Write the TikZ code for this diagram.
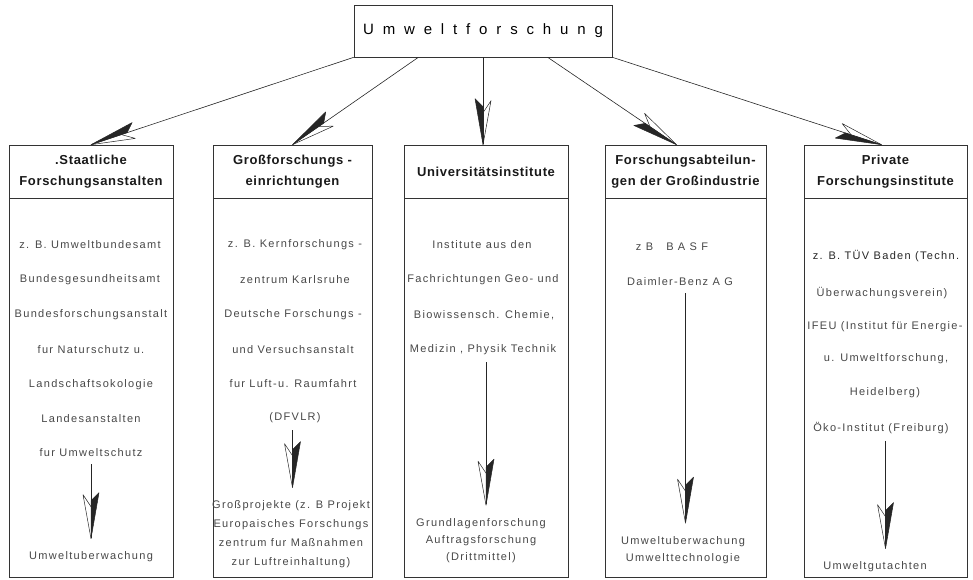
\documentclass[tikz,border=0pt]{standalone}
\usepackage{fontspec}
\setmainfont{Liberation Sans}
\newfontfamily\hdfont[LetterSpace=5]{Liberation Sans}
\newfontfamily\bdfont[LetterSpace=12]{Liberation Sans}
\newfontfamily\tpfont[LetterSpace=59]{Liberation Sans}
\usetikzlibrary{calc,arrows.meta}

\pgfdeclarearrow{
  name = QuillR,
  parameters = {\the\pgflinewidth},
  setup code = {
    \pgfarrowssettipend{0pt}
    \pgfarrowssetlineend{-1pt}
    \pgfarrowssetbackend{-47pt}
    \pgfarrowssetvisualbackend{-40pt}
  },
  drawing code = {
    \pgfsetcolor{black!85}
    \pgfsetlinewidth{0.5pt}
    \pgfsetroundjoin
    \pgfpathmoveto{\pgfqpoint{0pt}{0pt}}
    \pgfpathlineto{\pgfqpoint{-46pt}{-8pt}}
    \pgfpathlineto{\pgfqpoint{-38pt}{0pt}}
    \pgfpathclose
    \pgfusepathqfillstroke
    \pgfpathmoveto{\pgfqpoint{0pt}{0pt}}
    \pgfpathlineto{\pgfqpoint{-44pt}{8pt}}
    \pgfpathlineto{\pgfqpoint{-32pt}{0pt}}
    \pgfusepathqstroke
  }
}
\pgfdeclarearrow{
  name = QuillL,
  parameters = {\the\pgflinewidth},
  setup code = {
    \pgfarrowssettipend{0pt}
    \pgfarrowssetlineend{-1pt}
    \pgfarrowssetbackend{-47pt}
    \pgfarrowssetvisualbackend{-40pt}
  },
  drawing code = {
    \pgfsetcolor{black!85}
    \pgfsetlinewidth{0.5pt}
    \pgfsetroundjoin
    \pgfpathmoveto{\pgfqpoint{0pt}{0pt}}
    \pgfpathlineto{\pgfqpoint{-46pt}{8pt}}
    \pgfpathlineto{\pgfqpoint{-38pt}{0pt}}
    \pgfpathclose
    \pgfusepathqfillstroke
    \pgfpathmoveto{\pgfqpoint{0pt}{0pt}}
    \pgfpathlineto{\pgfqpoint{-44pt}{-8pt}}
    \pgfpathlineto{\pgfqpoint{-32pt}{0pt}}
    \pgfusepathqstroke
  }
}

\tikzset{
  box/.style={draw=black!80, line width=0.6pt, inner sep=0pt},
  hd/.style={align=center, font=\hdfont\bfseries\fontsize{13}{21}\selectfont, text=black!90},
  bd/.style={font=\bdfont\fontsize{11}{13}\selectfont, text=black!72, inner sep=1pt},
  ml/.style={bd, align=center, font=\bdfont\fontsize{11}{#1}\selectfont},
  conn/.style={draw=black!85, line width=0.6pt, -QuillR},
  inarr/.style={draw=black!85, line width=0.6pt, -QuillL, shorten <=6pt, shorten >=12pt},
}

\begin{document}
\begin{tikzpicture}[x=1pt, y=-1pt]
\useasboundingbox (0,0) rectangle (973,580);

% top box
\node[box, minimum width=258pt, minimum height=52pt] (top) at (483,31)
  {\tpfont\fontsize{15}{18}\selectfont Umweltforschung};

% headers
\node[box, hd, minimum width=164pt, minimum height=53pt] (h1) at (91,171.5) {.Staatliche\\Forschungsanstalten};
\node[box, hd, minimum width=159pt, minimum height=53pt] (h2) at (292.5,171.5) {Großforschungs -\\einrichtungen};
\node[box, hd, minimum width=164pt, minimum height=53pt] (h3) at (486,171.5) {Universitätsinstitute};
\node[box, hd, minimum width=161pt, minimum height=53pt] (h4) at (685.5,171.5) {Forschungsabteilun-\\gen der Großindustrie};
\node[box, hd, minimum width=163pt, minimum height=53pt] (h5) at (885.5,171.5) {Private\\Forschungsinstitute};

% bodies
\node[box, minimum width=164pt, minimum height=379pt, anchor=north] (b1) at (h1.south) {};
\node[box, minimum width=159pt, minimum height=379pt, anchor=north] (b2) at (h2.south) {};
\node[box, minimum width=164pt, minimum height=379pt, anchor=north] (b3) at (h3.south) {};
\node[box, minimum width=161pt, minimum height=379pt, anchor=north] (b4) at (h4.south) {};
\node[box, minimum width=163pt, minimum height=379pt, anchor=north] (b5) at (h5.south) {};

% column 1
\node[bd] (t1a) at (90,245) {z. B. Umweltbundesamt};
\node[bd] (t1b) at (90,280) {Bundesgesundheitsamt};
\node[bd] (t1c) at (91,315) {Bundesforschungsanstalt};
\node[bd] (t1d) at (91,350) {fur Naturschutz u.};
\node[bd] (t1e) at (91,385) {Landschaftsokologie};
\node[bd] (t1f) at (91,419) {Landesanstalten};
\node[bd] (t1g) at (91,453) {fur Umweltschutz};
\node[bd] (t1h) at (91,557) {Umweltuberwachung};

% column 2
\node[bd] (t2a) at (295,245) {z. B. Kernforschungs -};
\node[bd] (t2b) at (295,280) {zentrum Karlsruhe};
\node[bd] (t2c) at (293,315) {Deutsche Forschungs -};
\node[bd] (t2d) at (293,350) {und Versuchsanstalt};
\node[bd] (t2e) at (293,384) {fur Luft-u. Raumfahrt};
\node[bd] (t2f) at (295,418) {(DFVLR)};
\node[ml=19pt] (t2g) at (291,534.5) {Großprojekte (z. B Projekt\\Europaisches Forschungs\\zentrum fur Maßnahmen\\zur Luftreinhaltung)};

% column 3
\node[bd] (t3a) at (482,245) {Institute aus den};
\node[bd] (t3b) at (483,280) {Fachrichtungen Geo- und};
\node[bd] (t3c) at (484,315) {Biowissensch. Chemie,};
\node[bd] (t3d) at (483,350) {Medizin , Physik Technik};
\node[ml=17pt] (t3e) at (481,540.5) {Grundlagenforschung\\Auftragsforschung\\(Drittmittel)};

% column 4
\node[bd] (t4a) at (672,247) {z~B~~~B~A~S~F};
\node[bd] (t4b) at (680,282) {Daimler-Benz A G};
\node[ml=17pt] (t4c) at (683,550) {Umweltuberwachung\\Umwelttechnologie};

% column 5
\node[bd, text=black!85] (t5a) at (886,256) {z. B. TÜV Baden (Techn.};
\node[bd] (t5b) at (882,293) {Überwachungsverein)};
\node[bd] (t5c) at (885,327) {IFEU (Institut für Energie-};
\node[bd] (t5d) at (886,359) {u. Umweltforschung,};
\node[bd] (t5e) at (885,393) {Heidelberg)};
\node[bd] (t5f) at (881,428) {Öko-Institut (Freiburg)};
\node[bd] (t5g) at (875,567) {Umweltgutachten};

% connectors from top
\draw[conn] (top.south west) -- (h1.north);
\draw[conn] ($(top.south west)!0.25!(top.south east)$) -- (h2.north);
\draw[conn] (top.south) -- (top.south |- h3.north);
\draw[conn] ($(top.south west)!0.75!(top.south east)$) -- ($(h4.north)+(-9,0)$);
\draw[conn] (top.south east) -- ($(h5.north)+(-4,0)$);

% inner arrows
\draw[inarr] (t1g.south -| h1) -- (t1h.north -| h1);
\draw[inarr] (t2f.south -| h2) -- (t2g.north -| h2);
\draw[inarr] (t3d.south -| h3) -- (t3e.north -| h3);
\draw[inarr] (t4b.south -| h4) -- (t4c.north -| h4);
\draw[inarr] (t5f.south -| h5) -- (t5g.north -| h5);
\end{tikzpicture}
\end{document}
